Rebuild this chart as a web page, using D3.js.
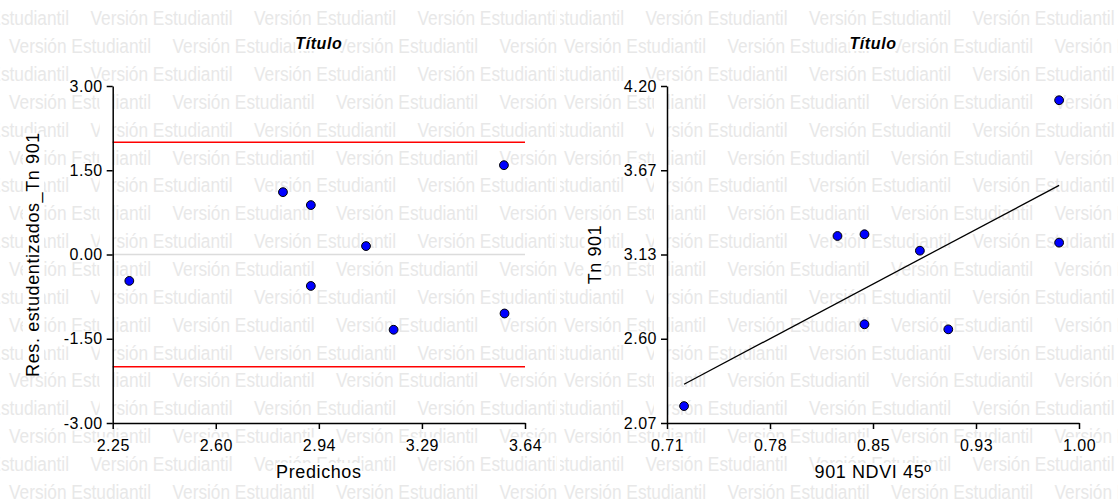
<!DOCTYPE html>
<html>
<head>
<meta charset="utf-8">
<script src="https://cdn.jsdelivr.net/npm/d3@7"></script>
<style>
  html, body { margin: 0; padding: 0; background: #fff; }
  svg { display: block; font-family: "Liberation Sans", Arial, sans-serif; }
</style>
</head>
<body>
<svg id="chart" width="1118" height="501"></svg>
<script>
// ── Data ──────────────────────────────────────────────────────────────────────
// left panel: studentized residuals vs predicted
const predichos = [2.306, 2.824, 2.918, 2.918, 3.104, 3.197, 3.571, 3.569];
const residuos  = [-0.47, 1.11, 0.88, -0.56, 0.15, -1.34, -1.05, 1.59];
const refLimits = [2, -2];
const zeroLine  = [0];

// right panel: Tn 901 vs 901 NDVI 45º
const ndvi  = [0.722, 0.830, 0.849, 0.849, 0.888, 0.908, 0.986, 0.986];
const tn901 = [2.177, 3.252, 3.263, 2.694, 3.159, 2.662, 4.110, 3.210];
const fitX  = [0.722, 0.986];
const fitY  = [2.315, 3.572];

// ticks
const resXTicks  = [2.25, 2.5975, 2.945, 3.2925, 3.64];
const resXLabels = ["2.25", "2.60", "2.94", "3.29", "3.64"];
const resYTicks  = [-3, -1.5, 0, 1.5, 3];
const resYLabels = ["-3.00", "-1.50", "0.00", "1.50", "3.00"];
const ndviTicks  = [0.71, 0.7825, 0.855, 0.9275, 1.0];
const ndviLabels = ["0.71", "0.78", "0.85", "0.93", "1.00"];
const tnTicks    = [2.07, 2.6025, 3.135, 3.6675, 4.2];
const tnLabels   = ["2.07", "2.60", "3.13", "3.67", "4.20"];

const watermark = "Versión Estudiantil";

// ── Setup ────────────────────────────────────────────────────────────────────
const svg = d3.select("#chart");
const plotTop = 86, plotBottom = 423;

// watermark rows, each panel has its own clipped copy
function drawWatermark(x0, w, shift) {
  const id = "clip" + Math.round(x0);
  svg.append("clipPath").attr("id", id)
    .append("rect").attr("x", x0).attr("y", 0).attr("width", w).attr("height", 501);
  const g = svg.append("g").attr("clip-path", `url(#${id})`);
  for (let k = 0; k < 18; k++) {
    const start = (k % 2 === 0 ? -73 : 9) + shift;
    for (let x = start; x < x0 + w; x += 163.5) {
      if (x + 145 < x0) continue;
      g.append("text")
        .attr("x", x).attr("y", 25.3 + 27.85 * k)
        .attr("font-size", 20)
        .attr("textLength", 142)
        .attr("lengthAdjust", "spacingAndGlyphs")
        .attr("fill", "#e8e8e8")
        .text(watermark);
    }
  }
}
drawWatermark(0, 557, 0);
drawWatermark(560, 558, 555);

function panel(opt) {
  const x = d3.scaleLinear().domain(opt.xDomain).range(opt.xRange);
  const y = d3.scaleLinear().domain(opt.yDomain).range([plotBottom, plotTop]);
  const g = svg.append("g");
  const bg = g.append("g");          // white boxes behind texts
  const marks = g.append("g");
  const labels = g.append("g");

  // strip along the y axis
  bg.append("rect")
    .attr("x", opt.xRange[0] - 13).attr("y", plotTop)
    .attr("width", 13).attr("height", plotBottom - plotTop)
    .attr("fill", "#fff");

  (opt.hlines || []).forEach((h) => {
    marks.selectAll(null).data(h.values).join("line")
      .attr("x1", opt.xRange[0]).attr("x2", opt.xRange[1])
      .attr("y1", (d) => y(d)).attr("y2", (d) => y(d))
      .attr("stroke", h.color).attr("stroke-width", 1.5);
  });

  if (opt.fit) {
    marks.append("path")
      .datum(d3.zip(opt.fit[0], opt.fit[1]))
      .attr("d", d3.line().x((d) => x(d[0])).y((d) => y(d[1])))
      .attr("fill", "none").attr("stroke", "#000").attr("stroke-width", 1.3);
  }

  // axes
  const xAxis = d3.axisBottom(x).tickValues(opt.xTicks)
    .tickFormat((d, i) => opt.xLabels[i]).tickSize(6).tickPadding(4).tickSizeOuter(0);
  const yAxis = d3.axisLeft(y).tickValues(opt.yTicks)
    .tickFormat((d, i) => opt.yLabels[i]).tickSize(6).tickPadding(4).tickSizeOuter(0);
  const gx = marks.append("g").attr("transform", `translate(0,${plotBottom})`).call(xAxis);
  const gy = marks.append("g").attr("transform", `translate(${opt.xRange[0]},0)`).call(yAxis);
  [gx, gy].forEach((a) => {
    a.selectAll("path,line").attr("stroke", "#000").attr("stroke-width", 1.5);
    a.selectAll("text").attr("font-size", 16).attr("fill", "#000")
      .attr("letter-spacing", "0.5px")
      .attr("font-family", "Liberation Sans, Arial, sans-serif");
  });
  gx.selectAll("text").attr("dy", null).attr("y", 27.5);

  // points
  marks.selectAll(null).data(d3.zip(opt.xs, opt.ys)).join("circle")
    .attr("cx", (d) => x(d[0])).attr("cy", (d) => y(d[1]))
    .attr("r", 4.4).attr("fill", "#0000ff").attr("stroke", "#000").attr("stroke-width", 1);

  // titles
  const cx = (opt.xRange[0] + opt.xRange[1]) / 2;
  labels.append("text").attr("x", cx).attr("y", 49)
    .attr("text-anchor", "middle").attr("font-size", 16)
    .attr("letter-spacing", "0.6px")
    .attr("font-weight", "bold").attr("font-style", "italic")
    .text("Título");
  labels.append("text").attr("x", cx).attr("y", 478)
    .attr("text-anchor", "middle").attr("font-size", 18)
    .attr("letter-spacing", "0.6px").text(opt.xTitle);
  labels.append("text")
    .attr("transform", `translate(${opt.yTitleX},${(plotTop + plotBottom) / 2}) rotate(-90)`)
    .attr("text-anchor", "middle").attr("font-size", 18)
    .attr("letter-spacing", "0.6px").text(opt.yTitle);

  // white backgrounds behind every label
  g.selectAll("text").each(function () {
    const b = this.getBBox();
    const m = this.getCTM();
    const p = this.ownerSVGElement.createSVGPoint();
    const corners = [[b.x, b.y], [b.x + b.width, b.y], [b.x, b.y + b.height], [b.x + b.width, b.y + b.height]]
      .map(([px, py]) => { p.x = px; p.y = py; const q = p.matrixTransform(m); return [q.x, q.y]; });
    const xs = corners.map((c) => c[0]), ys = corners.map((c) => c[1]);
    bg.append("rect")
      .attr("x", d3.min(xs)).attr("y", d3.min(ys) + 1)
      .attr("width", d3.max(xs) - d3.min(xs)).attr("height", d3.max(ys) - d3.min(ys) - 2)
      .attr("fill", "#fff");
  });
}

panel({
  xDomain: [2.25, 3.64], xRange: [112.7, 525], yDomain: [-3, 3],
  xTicks: resXTicks, xLabels: resXLabels, yTicks: resYTicks, yLabels: resYLabels,
  xs: predichos, ys: residuos,
  hlines: [{ values: zeroLine, color: "#dcdcdc" }, { values: refLimits, color: "#ff0000" }],
  xTitle: "Predichos", yTitle: "Res. estudentizados_Tn 901", yTitleX: 39,
});

panel({
  xDomain: [0.71, 1.0], xRange: [667, 1079], yDomain: [2.07, 4.2],
  xTicks: ndviTicks, xLabels: ndviLabels, yTicks: tnTicks, yLabels: tnLabels,
  xs: ndvi, ys: tn901, fit: [fitX, fitY],
  xTitle: "901 NDVI 45º", yTitle: "Tn 901", yTitleX: 600.5,
});
</script>
</body>
</html>
